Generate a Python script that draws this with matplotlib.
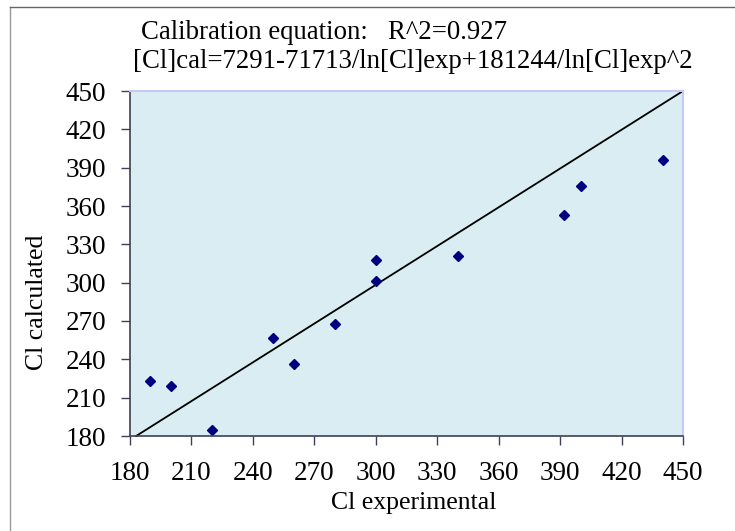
import matplotlib.pyplot as plt
import numpy as np

# valores
cl_exp = np.array([190, 200, 220, 250, 260, 280, 300, 300, 340, 392, 400, 440])
cl_cal = np.array([223, 219, 185, 257, 236, 268, 318, 301, 321, 353, 376, 396])
ticks = [180, 210, 240, 270, 300, 330, 360, 390, 420, 450]
line_x = [183, 450]
line_y = [180, 450]

plt.rcParams['font.family'] = ['Liberation Serif', 'DejaVu Serif']

W, H = 735, 531
fig = plt.figure(figsize=(W/100, H/100), dpi=100)
ax = fig.add_axes([130/W, 1-436/H, 553/W, 345/H])
ax.set_facecolor('#daedf2')

ax.plot(line_x, line_y, color='black', lw=1.3, clip_on=False)
ax.plot(cl_exp, cl_cal, 'D', color='#000080', markersize=5.3, linestyle='none')

ax.set_xlim(180, 450)
ax.set_ylim(180, 450)
ax.set_xticks(ticks)
ax.set_yticks(ticks)
ax.tick_params(direction='out', length=6.3, width=1, labelsize=19.5, colors='#404058',
               labelcolor='black')
ax.tick_params(axis='x', pad=12)
ax.tick_params(axis='y', pad=11)

for s in ['left', 'bottom']:
    ax.spines[s].set_color('#404058')
    ax.spines[s].set_linewidth(1.2)
for s in ['top', 'right']:
    ax.spines[s].set_color('#c8c8f4')
    ax.spines[s].set_linewidth(1.5)

fig.text(37/W, 1-302/H, 'Cl calculated', rotation=90, fontsize=18.5,
         ha='center', va='center')
fig.text(414/W, 1-509/H, 'Cl experimental', fontsize=18.5, ha='center', va='baseline')

fig.text(141/W, 1-39/H, 'Calibration equation:   R^2=0.927', fontsize=19.3,
         ha='left', va='baseline')
fig.text(133/W, 1-68/H, '[Cl]cal=7291-71713/ln[Cl]exp+181244/ln[Cl]exp^2',
         fontsize=19.3, ha='left', va='baseline')

# marco del area del grafico
fig.add_artist(plt.Line2D([10/W, 10/W], [0, 1-7/H], color='#999999', lw=1,
                          transform=fig.transFigure))
fig.add_artist(plt.Line2D([10/W, 1], [1-7/H, 1-7/H], color='#666666', lw=1,
                          transform=fig.transFigure))

fig.savefig('out.png', dpi=100)
